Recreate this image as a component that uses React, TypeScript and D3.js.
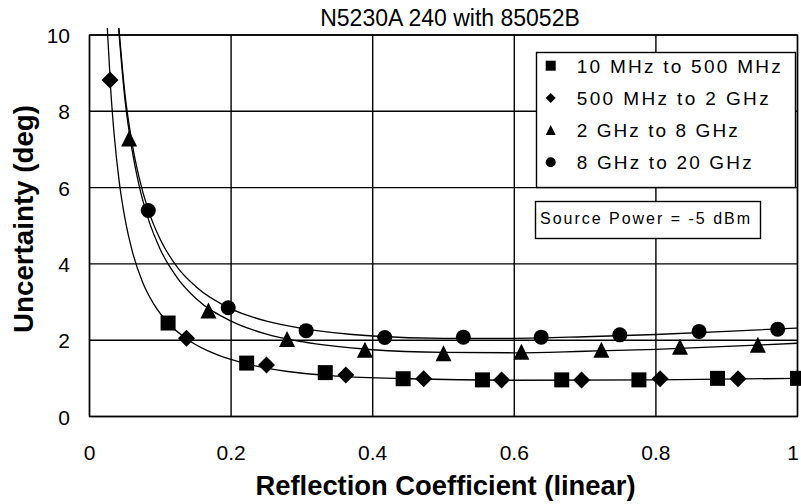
import * as d3 from "d3";

// chart size and plot frame
const W = 801;
const H = 504;
const PLOT = { left: 89.5, right: 797.5, top: 35, bottom: 416.5 };

// tick values
const xTicks = [0, 0.2, 0.4, 0.6, 0.8, 1];
const yTicks = [0, 2, 4, 6, 8, 10];

// measured points, one array per band
const squareX = [0.111, 0.222, 0.333, 0.443, 0.555, 0.667, 0.776, 0.887, 1.0];
const squareY = [2.45, 1.4, 1.15, 0.99, 0.96, 0.96, 0.96, 1.0, 1.0];
const diamondX = [0.029, 0.137, 0.25, 0.362, 0.472, 0.582, 0.695, 0.806, 0.916];
const diamondY = [8.82, 2.05, 1.35, 1.09, 0.99, 0.96, 0.96, 0.99, 0.99];
const triangleX = [0.056, 0.168, 0.279, 0.389, 0.5, 0.61, 0.723, 0.834, 0.944];
const triangleY = [7.29, 2.78, 2.03, 1.75, 1.66, 1.7, 1.75, 1.83, 1.88];
const circleX = [0.083, 0.196, 0.306, 0.417, 0.528, 0.638, 0.749, 0.861, 0.972];
const circleY = [5.4, 2.85, 2.25, 2.07, 2.08, 2.08, 2.14, 2.23, 2.29];

// trend curves
const lowTrendX = [0.0245, 0.03, 0.035, 0.042, 0.05, 0.06, 0.075, 0.09, 0.11, 0.14, 0.18, 0.22, 0.28, 0.35, 0.45, 0.6, 0.8, 1.0];
const lowTrendY = [10.4, 8.56, 7.36, 6.15, 5.2, 4.36, 3.52, 2.97, 2.47, 2.0, 1.62, 1.39, 1.18, 1.06, 0.99, 0.95, 0.96, 1.0];
const highTrendX = [0.041, 0.05, 0.06, 0.07, 0.083, 0.1, 0.125, 0.15, 0.2, 0.25, 0.3, 0.4, 0.5, 0.6, 0.7, 0.8, 0.9, 1.0];
const triangleTrendY = [10.2, 8.32, 7.0, 6.06, 5.18, 4.38, 3.61, 3.1, 2.5, 2.16, 1.96, 1.75, 1.68, 1.67, 1.71, 1.76, 1.84, 1.92];
const circleTrendY = [10.3, 8.47, 7.18, 6.27, 5.41, 4.64, 3.89, 3.41, 2.82, 2.5, 2.31, 2.11, 2.05, 2.05, 2.09, 2.15, 2.23, 2.32];

const legendLabels = ["10 MHz to 500 MHz", "500 MHz to 2 GHz", "2 GHz to 8 GHz", "8 GHz to 20 GHz"];
const legendWidths = [204, 192, 161, 175];

const FONT = "'Liberation Sans', Arial, sans-serif";

type Shape = "square" | "diamond" | "triangle" | "circle";

function markerPath(shape: Shape, s: number) {
  const h = s / 2;
  if (shape === "square") return `M${-h},${-h}H${h}V${h}H${-h}Z`;
  if (shape === "diamond") return `M0,${-h}L${h},0L0,${h}L${-h},0Z`;
  if (shape === "triangle") return `M0,${-h}L${h},${h}L${-h},${h}Z`;
  return d3.symbol(d3.symbolCircle, Math.PI * h * h)() as string;
}

const x = d3.scaleLinear().domain([0, 1]).range([PLOT.left, PLOT.right]);
const y = d3.scaleLinear().domain([0, 10]).range([PLOT.bottom, PLOT.top]);

const line = d3
  .line<[number, number]>()
  .x((d) => x(d[0]))
  .y((d) => y(d[1]))
  .curve(d3.curveMonotoneX);

const zip = (xs: number[], ys: number[]) => xs.map((v, i) => [v, ys[i]] as [number, number]);

const series: { shape: Shape; pts: [number, number][]; size: number }[] = [
  { shape: "square", pts: zip(squareX, squareY), size: 15 },
  { shape: "diamond", pts: zip(diamondX, diamondY), size: 17 },
  { shape: "triangle", pts: zip(triangleX, triangleY), size: 16 },
  { shape: "circle", pts: zip(circleX, circleY), size: 15 },
];

const trends = [zip(lowTrendX, lowTrendY), zip(highTrendX, triangleTrendY), zip(highTrendX, circleTrendY)];

export default function App() {
  return (
    <svg
      width={W}
      height={H}
      style={{ position: "absolute", left: 0, top: 0, background: "#fff" }}
      fontFamily={FONT}
    >
      <defs>
        <clipPath id="plotClip">
          <rect x={PLOT.left} y={28} width={PLOT.right - PLOT.left} height={PLOT.bottom - 28} />
        </clipPath>
      </defs>
      <rect width={W} height={H} fill="#fff" />

      {/* title */}
      <text x={450} y={26} fontSize={23} textAnchor="middle" fill="#000">
        N5230A 240 with 85052B
      </text>

      {/* grid */}
      <g stroke="#000" strokeWidth={1.4}>
        {xTicks.map((t) => (
          <line key={"gx" + t} x1={x(t)} x2={x(t)} y1={PLOT.top} y2={PLOT.bottom} />
        ))}
        {yTicks.map((t) => (
          <line key={"gy" + t} x1={PLOT.left} x2={PLOT.right} y1={y(t)} y2={y(t)} />
        ))}
        <rect
          x={PLOT.left}
          y={PLOT.top}
          width={PLOT.right - PLOT.left}
          height={PLOT.bottom - PLOT.top}
          fill="none"
        />
      </g>

      {/* tick labels */}
      <g fontSize={21} fill="#000">
        {xTicks.map((t) => (
          <text key={"tx" + t} x={Math.min(x(t), W - 8)} y={460} textAnchor="middle">
            {d3.format("~g")(t)}
          </text>
        ))}
        {yTicks.map((t) => (
          <text key={"ty" + t} x={70} y={y(t) + 8} textAnchor="end">
            {t}
          </text>
        ))}
      </g>

      {/* trend curves */}
      <g clipPath="url(#plotClip)" fill="none" stroke="#000" strokeWidth={1.3}>
        {trends.map((t, i) => (
          <path key={"tr" + i} d={line(t) as string} />
        ))}
      </g>

      {/* markers */}
      <g fill="#000">
        {series.map((s) =>
          s.pts.map((p, i) => (
            <path
              key={s.shape + i}
              d={markerPath(s.shape, s.size)}
              transform={`translate(${x(p[0])},${y(p[1])})`}
            />
          ))
        )}
      </g>

      {/* legend */}
      <rect x={536.5} y={52.5} width={259} height={135} fill="#fff" stroke="#000" strokeWidth={1.4} />
      {legendLabels.map((label, i) => {
        const cy = 65.7 + i * 32.2;
        return (
          <g key={label}>
            <path d={markerPath(series[i].shape, 10)} transform={`translate(550.7,${cy})`} fill="#000" />
            <text
              x={576.7}
              y={cy + 7}
              fontSize={19}
              textLength={legendWidths[i]}
              lengthAdjust="spacing"
              fill="#000"
            >
              {label}
            </text>
          </g>
        );
      })}

      {/* source power note */}
      <rect x={535.5} y={201.5} width={225} height={37} fill="#fff" stroke="#000" strokeWidth={1.4} />
      <text x={540} y={224} fontSize={16} textLength={210} lengthAdjust="spacing" fill="#000">
        Source Power = -5 dBm
      </text>

      {/* axis titles */}
      <text x={445.5} y={495} fontSize={27} fontWeight="bold" textAnchor="middle" textLength={380} lengthAdjust="spacingAndGlyphs" fill="#000">
        Reflection Coefficient (linear)
      </text>
      <text
        transform="translate(33,219) rotate(-90)"
        fontSize={27}
        fontWeight="bold"
        textAnchor="middle"
        textLength={228}
        lengthAdjust="spacingAndGlyphs"
        fill="#000"
      >
        Uncertainty (deg)
      </text>
    </svg>
  );
}
